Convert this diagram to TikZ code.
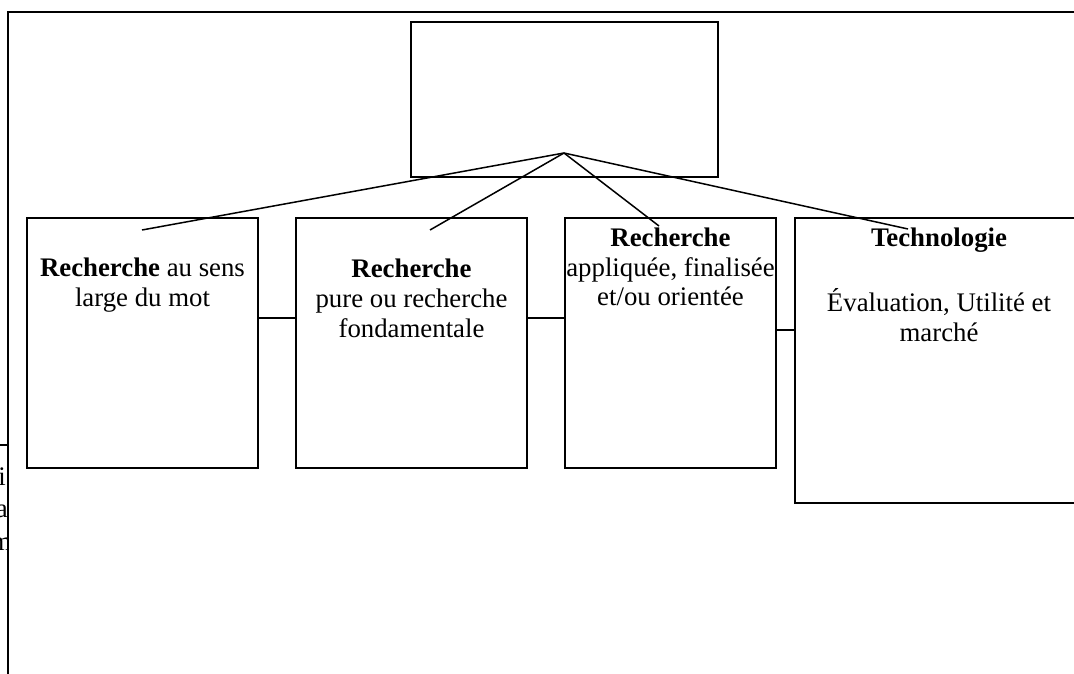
\documentclass[tikz,border=0pt]{standalone}
\usepackage{fontspec}
\setmainfont{Liberation Serif}
\begin{document}
\begin{tikzpicture}[x=1pt,y=-1pt,
  box/.style={draw,line width=1.5pt,inner sep=0pt,outer sep=0pt,anchor=north west},
  txt/.style={anchor=base,inner sep=0pt,font=\fontsize{26.8}{30}\selectfont},
  link/.style={line width=1.5pt},
  frame/.style={line width=1.7pt}]
\useasboundingbox (0,0) rectangle (1074,674);
\clip (0,0) rectangle (1074,674);
% frame of the page
\coordinate (fTL) at (8,12);
\coordinate (fTR) at (1076,12);
\coordinate (fBL) at (8,676);
\draw[frame] (fTR) -- (fTL) -- (fBL);
\coordinate (sL) at (-2,445);
\coordinate (sR) at (8,445);
\draw[link] (sL) -- (sR);
\begin{scope}
\clip (0,440) rectangle (7.5,600);
\node[txt,anchor=base east] (ci) at (6,485) {i};
\node[txt,anchor=base east] (ca) at (8,517) {a};
\node[txt,anchor=base east] (cm) at (12,550) {m};
\end{scope}
% boxes
\node[box,minimum width=307pt,minimum height=155pt] (top) at (411,22) {};
\node[box,minimum width=231pt,minimum height=250pt] (b1) at (27,218) {};
\node[box,minimum width=231pt,minimum height=250pt] (b2) at (296,218) {};
\node[box,minimum width=211pt,minimum height=250pt] (b3) at (565,218) {};
\node[box,minimum width=288pt,minimum height=285pt] (b4) at (795,218) {};
% texts
\node[txt] (t1a) at (142.5,276) {\textbf{Recherche} au sens};
\node[txt] (t1b) at (142.5,306) {large du mot};
\node[txt] (t2a) at (411.5,277) {\textbf{Recherche}};
\node[txt] (t2b) at (411.5,307) {pure ou recherche};
\node[txt] (t2c) at (411.5,337) {fondamentale};
\node[txt] (t3a) at (670.5,246) {\textbf{Recherche}};
\node[txt] (t3b) at (670.5,276) {appliquée, finalisée};
\node[txt] (t3c) at (670.5,305) {et/ou orientée};
\node[txt] (t4a) at (939,246) {\textbf{Technologie}};
\node[txt] (t4b) at (939,311) {Évaluation, Utilité et};
\node[txt] (t4c) at (939,341) {marché};
% fan of connectors
\coordinate (apex) at (564,153);
\coordinate (e1) at (142,230);
\coordinate (e2) at (430,230);
\coordinate (e3) at (659,226);
\coordinate (e4) at (908,229);
\draw[link] (apex) -- (e1);
\draw[link] (apex) -- (e2);
\draw[link] (apex) -- (e3);
\draw[link] (apex) -- (e4);
% horizontal connectors
\draw[link] (b1.east |- 0,318) -- (b2.west |- 0,318);
\draw[link] (b2.east |- 0,318) -- (b3.west |- 0,318);
\draw[link] (b3.east |- 0,330) -- (b4.west |- 0,330);
\end{tikzpicture}
\end{document}
